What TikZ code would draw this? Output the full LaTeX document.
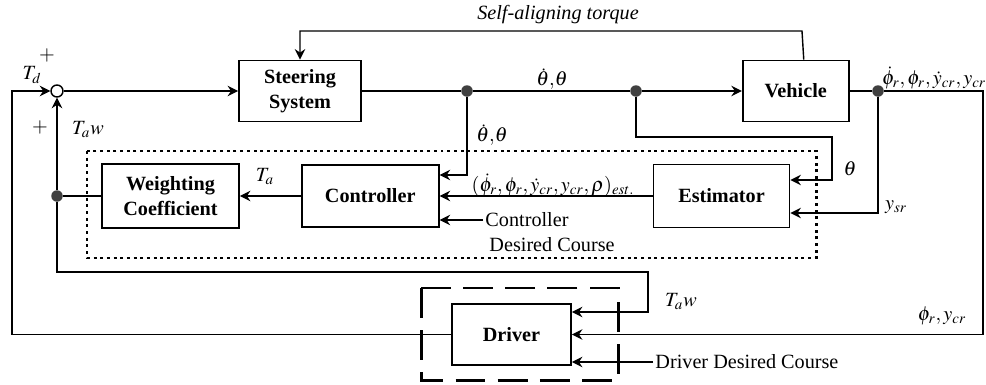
\documentclass[tikz,border=0pt]{standalone}
\usepackage{mathptmx}
\usepackage{fontspec}
\setmainfont{Liberation Serif}
\usetikzlibrary{arrows.meta, positioning, calc}

\begin{document}
\begin{tikzpicture}[
    font=\fontsize{11.5}{14}\selectfont,
    line width=0.8pt,
    >={Stealth[length=6pt,width=6pt,inset=2pt]},
    block/.style={rectangle, draw, line width=1pt, minimum height=1.22cm, align=center, font=\fontsize{11.5}{14}\selectfont\bfseries},
    junction/.style={circle, fill=black!75, inner sep=0pt, minimum size=0.23cm},
    summer/.style={circle, draw, fill=white, inner sep=0pt, minimum size=0.24cm},
    lbl/.style={inner sep=1pt},
    dotbox/.style={line width=1.7pt, dash pattern=on 1.7pt off 2.1pt},
    dashbox/.style={line width=1.7pt, dash pattern=on 17pt off 7pt}
]
    \useasboundingbox (0,0) rectangle (19.72,-7.68);

    % Blocks
    \node[summer] (sum) at (1.14,-1.82) {};
    \node[block, minimum width=2.44cm] (steer) at (6.0,-1.82) {Steering\\System};
    \node[block, minimum width=2.12cm, right=7.6cm of steer] (vehicle) {Vehicle};
    \node[block, minimum width=2.74cm, minimum height=1.28cm] (weight) at (3.41,-3.92) {Weighting\\Coefficient};
    \node[block, minimum width=2.74cm, minimum height=1.24cm, right=1.22cm of weight] (ctrl) {Controller};
    \node[block, minimum width=2.72cm, minimum height=1.26cm, right=4.26cm of ctrl] (est) {Estimator};
    \node[block, minimum width=2.38cm] (driver) at (10.23,-6.69) {Driver};

    % Branch points
    \node[junction] (d1) at (9.34,-1.82) {};
    \node[junction] (d2) at (12.72,-1.82) {};
    \node[junction] (d3) at (17.56,-1.82) {};
    \node[junction] (wdot) at (1.14,-3.92) {};

    % Corners
    \coordinate (satR) at (16.04,-0.62);
    \coordinate (thetaturn) at (16.64,-2.74);
    \coordinate (outcorner) at (19.66,-1.82);
    \coordinate (twturn) at (12.96,-5.44);
    \coordinate (fbcorner) at (0.24,-6.69);

    % Groups
    \draw[dotbox] (1.74,-3.02) rectangle (16.32,-5.16);
    \draw[dashbox] (8.42,-5.76) rectangle (12.36,-7.60);

    % Forward path
    \draw[->] (sum) -- (steer);
    \draw (steer) -- (d1) -- (d2);
    \draw[->] (d2) -- (vehicle);
    \draw (vehicle) -- (d3);
    \draw[->] ([xshift=0.16cm]vehicle.north) -- (satR) -| (steer.north);

    % Controller loop
    \draw[->] (d1) |- ($(ctrl.east)+(0,0.42)$);
    \draw[->] (d2) |- (thetaturn) |- ($(est.east)+(0,0.32)$);
    \draw[->] (d3) |- ($(est.east)+(0,-0.34)$);
    \draw[->] (est.west) -- (ctrl.east);
    \draw[->] (ctrl.west) -- (weight.east);
    \draw (weight.west) -- (wdot);
    \draw[->] (wdot) -- (sum);

    % Driver loop
    \draw[->] (d3) -- (outcorner) |- (driver.east);
    \draw[->] (wdot) |- (twturn) |- ($(driver.east)+(0,0.45)$);
    \draw[->] (driver.west) -- (fbcorner) |- (sum);

    % References
    \node[lbl, anchor=west] (ctrlref) at (9.66,-4.40) {Controller};
    \node[lbl, anchor=west] (ctrlrefb) at (9.74,-4.90) {Desired Course};
    \draw[->] (ctrlref.west) -- (ctrl.east |- ctrlref.west);
    \node[lbl, anchor=west] (drvref) at (13.06,-7.24) {Driver Desired Course};
    \draw[->] (drvref.west) -- (driver.east |- drvref.west);

    % Labels
    \node[lbl] (satlbl) at (11.16,-0.30) {\textit{Self-aligning torque}};
    \node[lbl] (tdlbl) at (0.64,-1.50) {$T_d$};
    \node[lbl] (plustop) at (0.94,-1.10) {$+$};
    \node[lbl] (plusbot) at (0.80,-2.54) {$+$};
    \node[lbl] (twlbl) at (1.76,-2.60) {$T_a w$};
    \node[lbl] (thlbl) at (11.04,-1.58) {$\dot{\theta}{,}\theta$};
    \node[lbl] (thlblb) at (9.84,-2.70) {$\dot{\theta}{,}\theta$};
    \node[lbl] (talbl) at (5.30,-3.54) {$T_a$};
    \node[lbl] (estlbl) at (11.06,-3.70) {$(\dot{\phi}_r,\phi_r,\dot{y}_{cr},y_{cr},\rho)_{est.}$};
    \node[lbl] (thetalbl) at (17.0,-3.38) {$\theta$};
    \node[lbl] (ysrlbl) at (17.92,-4.14) {$y_{sr}$};
    \node[lbl] (outlbl) at (18.68,-1.56) {$\dot{\phi}_r,\phi_r,\dot{y}_{cr},y_{cr}$};
    \node[lbl] (twdlbl) at (13.62,-6.04) {$T_a w$};
    \node[lbl] (phiylbl) at (18.84,-6.32) {$\phi_r,y_{cr}$};
\end{tikzpicture}
\end{document}
